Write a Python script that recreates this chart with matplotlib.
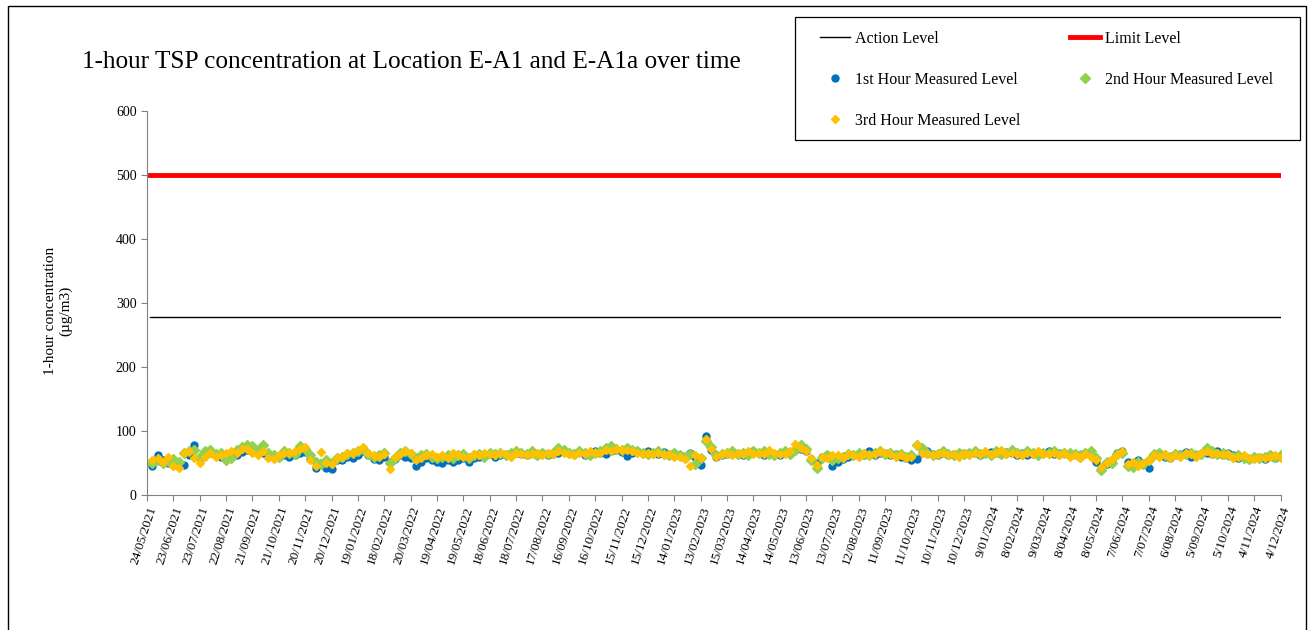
import numpy as np
import pandas as pd
import matplotlib
matplotlib.use("Agg")
import matplotlib.pyplot as plt
from matplotlib.patches import Rectangle

# sampling every 6 days, grouped 5 per 30-day tick interval
first_date = "2021-05-30"
n_points = 215

hour1 = [
    46, 63, 55, 50, 48,   48, 47, 63, 78, 58,
    62, 65, 62, 60, 64,   65, 63, 67, 70, 68,
    68, 66, 62, 60, 60,   62, 60, 63, 66, 67,
    56, 42, 50, 42, 40,   55, 55, 60, 58, 62,
    68, 62, 56, 55, 60,   52, 57, 62, 60, 58,
    46, 52, 58, 55, 52,   50, 55, 52, 55, 58,
    52, 58, 60, 62, 64,   60, 62, 64, 62, 66,
    64, 62, 66, 63, 65,   62, 64, 66, 68, 65,
    64, 67, 62, 65, 68,   66, 64, 68, 70, 67,
    61, 66, 68, 65, 69,   66, 64, 67, 62, 65,
    62, 58, 65, 60, 47,   92, 70, 60, 62, 64,
    66, 64, 62, 66, 68,   65, 63, 67, 64, 62,
    66, 64, 70, 72, 68,   56, 50, 60, 62, 46,
    52, 56, 60, 62, 64,   62, 68, 63, 65, 66,
    62, 64, 60, 58, 55,   56, 65, 68, 64, 62,
    66, 63, 64, 62, 65,   64, 66, 62, 65, 67,
    66, 64, 67, 65, 63,   66, 62, 64, 67, 65,
    68, 64, 65, 66, 62,   64, 60, 65, 62, 52,
    44, 48, 55, 66, 68,   52, 48, 54, 50, 42,
    62, 66, 60, 58, 62,   64, 67, 60, 62, 64,
    66, 64, 68, 63, 65,   62, 58, 60, 56, 58,
    60, 57, 62, 58, 60,
]

hour2 = [
    50, 55, 50, 53, 57,   52, 65, 68, 70, 60,
    68, 70, 64, 66, 55,   58, 70, 75, 78, 76,
    70, 78, 66, 62, 60,   68, 66, 64, 76, 72,
    62, 52, 48, 55, 50,   58, 60, 64, 66, 68,
    72, 64, 60, 62, 66,   50, 58, 66, 68, 64,
    58, 62, 64, 60, 58,   60, 62, 58, 62, 64,
    58, 62, 64, 60, 66,   64, 66, 62, 65, 68,
    66, 64, 68, 62, 66,   64, 66, 73, 70, 66,
    64, 68, 65, 62, 66,   68, 74, 76, 72, 70,
    74, 70, 68, 66, 64,   66, 68, 64, 62, 66,
    62, 60, 64, 49, 58,   85, 75, 62, 64, 66,
    68, 64, 66, 62, 68,   66, 68, 64, 62, 66,
    68, 64, 70, 78, 72,   54, 42, 58, 62, 55,
    58, 60, 64, 62, 66,   64, 62, 66, 68, 64,
    66, 62, 64, 60, 62,   78, 74, 66, 62, 64,
    68, 64, 62, 66, 64,   66, 68, 64, 66, 62,
    68, 64, 66, 70, 66,   64, 68, 66, 62, 66,
    66, 68, 64, 66, 65,   64, 62, 66, 68, 58,
    39, 52, 50, 64, 66,   46, 44, 52, 48, 55,
    64, 66, 62, 60, 64,   62, 64, 66, 62, 64,
    73, 68, 64, 66, 62,   60, 62, 58, 56, 60,
    58, 60, 62, 59, 62,
]

hour3 = [
    55, 58, 52, 60, 45,   42, 65, 68, 58, 50,
    60, 66, 60, 62, 65,   68, 66, 72, 72, 65,
    62, 68, 58, 56, 62,   65, 66, 68, 72, 75,
    55, 45, 67, 50, 48,   58, 60, 65, 66, 70,
    75, 66, 62, 60, 64,   40, 60, 64, 68, 66,
    55, 58, 62, 64, 60,   62, 58, 65, 62, 60,
    60, 64, 62, 66, 64,   62, 66, 64, 60, 66,
    64, 62, 64, 66, 62,   66, 64, 68, 66, 64,
    62, 66, 64, 68, 66,   66, 70, 68, 72, 70,
    70, 68, 66, 64, 66,   64, 66, 62, 64, 60,
    60, 56, 45, 62, 58,   88, 72, 60, 64, 66,
    62, 66, 64, 68, 64,   66, 64, 70, 66, 64,
    64, 68, 80, 74, 68,   58, 47, 60, 58, 62,
    62, 58, 64, 62, 60,   66, 62, 64, 68, 66,
    64, 60, 62, 58, 60,   78, 66, 64, 62, 64,
    66, 62, 64, 60, 66,   62, 66, 64, 68, 64,
    66, 70, 64, 66, 64,   62, 66, 64, 68, 64,
    64, 66, 62, 66, 60,   62, 58, 64, 60, 54,
    44, 50, 56, 62, 68,   49, 52, 45, 50, 55,
    62, 60, 64, 58, 62,   60, 66, 64, 60, 66,
    68, 64, 66, 62, 64,   58, 60, 62, 58, 56,
    60, 58, 60, 62, 58,
]

action_level = 278
limit_level = 500
level_span = ["2021-05-27", "2024-12-04"]

axis_start = "2021-05-24"
axis_end = "2024-12-04"
n_ticks = 44

plt.rcParams["font.family"] = ["Liberation Serif", "DejaVu Serif"]

dates = pd.date_range(first_date, periods=n_points, freq="6D")
ticks = pd.date_range(axis_start, periods=n_ticks, freq="30D")
tick_labels = [f"{d.day}/{d.month:02d}/{d.year}" for d in ticks]
span = pd.to_datetime(level_span)

W, H = 1308, 630
fig = plt.figure(figsize=(W / 100, H / 100), dpi=100)
ax = fig.add_axes([0.1124, 0.2143, 0.8666, 0.6095])

ax.plot(span, [action_level] * 2, color="black", lw=1.0, label="Action Level")
ax.plot(span, [limit_level] * 2, color="#FF0000", lw=3.5, label="Limit Level")
ax.plot(dates, hour1, ls="none", marker="o", ms=5, color="#0070C0",
        label="1st Hour Measured Level")
ax.plot(dates, hour2, ls="none", marker="D", ms=5, color="#92D050",
        label="2nd Hour Measured Level")
ax.plot(dates, hour3, ls="none", marker="D", ms=4, color="#FFC000",
        label="3rd Hour Measured Level")

ax.set_xlim(pd.Timestamp(axis_start), pd.Timestamp(axis_end))
ax.set_ylim(0, 600)
ax.set_yticks(range(0, 601, 100))
ax.set_xticks(ticks)
ax.set_xticklabels(tick_labels, rotation=72, ha="right", va="top",
                   rotation_mode="anchor", fontsize=9.5)
ax.tick_params(axis="y", labelsize=10)
ax.tick_params(axis="both", direction="out", length=4, color="#808080")
ax.tick_params(axis="x", pad=3)
for side in ("top", "right"):
    ax.spines[side].set_visible(False)
for side in ("left", "bottom"):
    ax.spines[side].set_color("#808080")

ax.set_ylabel("1-hour concentration\n(µg/m3)", fontsize=11)
ax.yaxis.set_label_coords(-0.066, 0.479)

fig.text(82 / W, 1 - 62 / H, "1-hour TSP concentration at Location E-A1 and E-A1a over time",
         fontsize=18.2, va="center", ha="left")

# legend box drawn separately so the inner padding can match
fig.add_artist(Rectangle((795 / W, 1 - 140 / H), 505 / W, 123 / H,
                         transform=fig.transFigure, fill=False, lw=0.9,
                         edgecolor="black"))

h, l = ax.get_legend_handles_labels()
order = [0, 2, 4, 1, 3]
leg = fig.legend([h[i] for i in order], [l[i] for i in order], ncol=2,
                 loc="upper left", bbox_to_anchor=(820 / W, 1 - 31 / H),
                 fontsize=11.5, frameon=False,
                 handlelength=1.9, handletextpad=0.3, labelspacing=1.55,
                 columnspacing=3.1, borderpad=0, borderaxespad=0)

fig.add_artist(Rectangle((8 / W, -0.1), 1298 / W, 1.1 - 6 / H,
                         transform=fig.transFigure, fill=False, lw=1.0,
                         edgecolor="black"))

fig.savefig("out.png", dpi=100)
